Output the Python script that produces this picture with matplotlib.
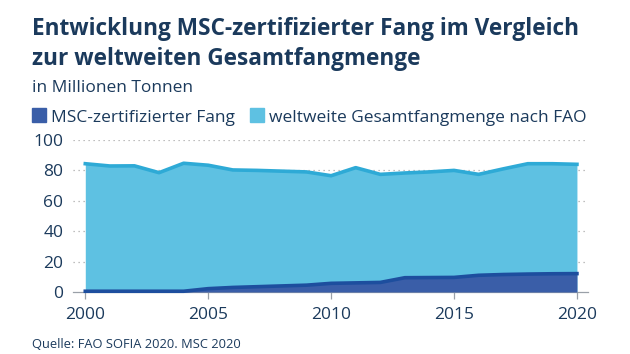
"""
MSC-zertifizierter Fang vs. weltweite Gesamtfangmenge
"""
import matplotlib
matplotlib.use('Agg')
import matplotlib.pyplot as plt
from matplotlib.patches import Rectangle

years = list(range(2000, 2021))
total_catch = [84.4, 82.9, 83.0, 78.5, 84.7, 83.4, 80.3, 80.0, 79.5, 79.0, 76.5,
               81.8, 77.4, 78.3, 79.0, 80.0, 77.4, 81.0, 84.4, 84.4, 84.0]
msc_catch = [0.5, 0.5, 0.5, 0.5, 0.5, 2.2, 3.0, 3.5, 4.0, 4.5, 5.7,
             6.0, 6.3, 9.4, 9.5, 9.6, 11.0, 11.5, 11.8, 12.0, 12.1]
yticks = [0, 20, 40, 60, 80, 100]
xticks = [2000, 2005, 2010, 2015, 2020]

navy = '#1b3a5c'
light_fill = '#5ec1e2'
light_line = '#2eaad6'
dark_fill = '#3a5ea8'
dark_line = '#1d4e9e'

plt.rcParams['font.family'] = ['Open Sans', 'DejaVu Sans']

fig = plt.figure(figsize=(6.3, 3.54), dpi=100)
W, H = 630, 354

ax = fig.add_axes([73 / W, 1 - 292 / H, (588 - 73) / W, (292 - 140) / H])

ax.fill_between(years, total_catch, color=light_fill, lw=0, zorder=2)
ax.plot(years, total_catch, color=light_line, lw=2.6, zorder=3,
        solid_joinstyle='round', clip_on=False)
ax.fill_between(years, msc_catch, color=dark_fill, lw=0, zorder=4)
ax.plot(years, msc_catch, color=dark_line, lw=2.6, zorder=5,
        solid_joinstyle='round', clip_on=False)

ax.set_xlim(1999.5, 2020.45)
ax.set_ylim(0, 100)
ax.set_xticks(xticks)
ax.set_yticks(yticks)
for y in yticks[1:]:
    ax.axhline(y, color='#aaaaaa', lw=0.9, ls=(0, (1, 3)), zorder=1)

for s in ['top', 'right', 'left']:
    ax.spines[s].set_visible(False)
ax.spines['bottom'].set_color('#9aa0a8')
ax.spines['bottom'].set_linewidth(0.9)
ax.tick_params(axis='x', length=5, width=0.9, color='#9aa0a8',
               labelsize=12.5, labelcolor=navy, pad=6)
ax.tick_params(axis='y', length=0, labelsize=12.5, labelcolor=navy, pad=7)

fig.text(32 / W, 1 - 35 / H, 'Entwicklung MSC-zertifizierter Fang im Vergleich',
         fontsize=16.3, fontweight='bold', color=navy, va='baseline')
fig.text(32 / W, 1 - 65 / H, 'zur weltweiten Gesamtfangmenge',
         fontsize=16.3, fontweight='bold', color=navy, va='baseline')
fig.text(32 / W, 1 - 92 / H, 'in Millionen Tonnen',
         fontsize=12.5, color=navy, va='baseline')

# legend
fig.patches.append(Rectangle((32 / W, 1 - 122 / H), 14 / W, 14 / H,
                             transform=fig.transFigure, color=dark_fill))
fig.text(51 / W, 1 - 122 / H, 'MSC-zertifizierter Fang',
         fontsize=12.5, color=navy, va='baseline')
fig.patches.append(Rectangle((250 / W, 1 - 122 / H), 14 / W, 14 / H,
                             transform=fig.transFigure, color=light_fill))
fig.text(269 / W, 1 - 122 / H, 'weltweite Gesamtfangmenge nach FAO',
         fontsize=12.5, color=navy, va='baseline')

fig.text(32 / W, 1 - 348 / H, 'Quelle: FAO SOFIA 2020. MSC 2020',
         fontsize=9.3, color=navy, va='baseline')

fig.savefig('out.png', dpi=100)
